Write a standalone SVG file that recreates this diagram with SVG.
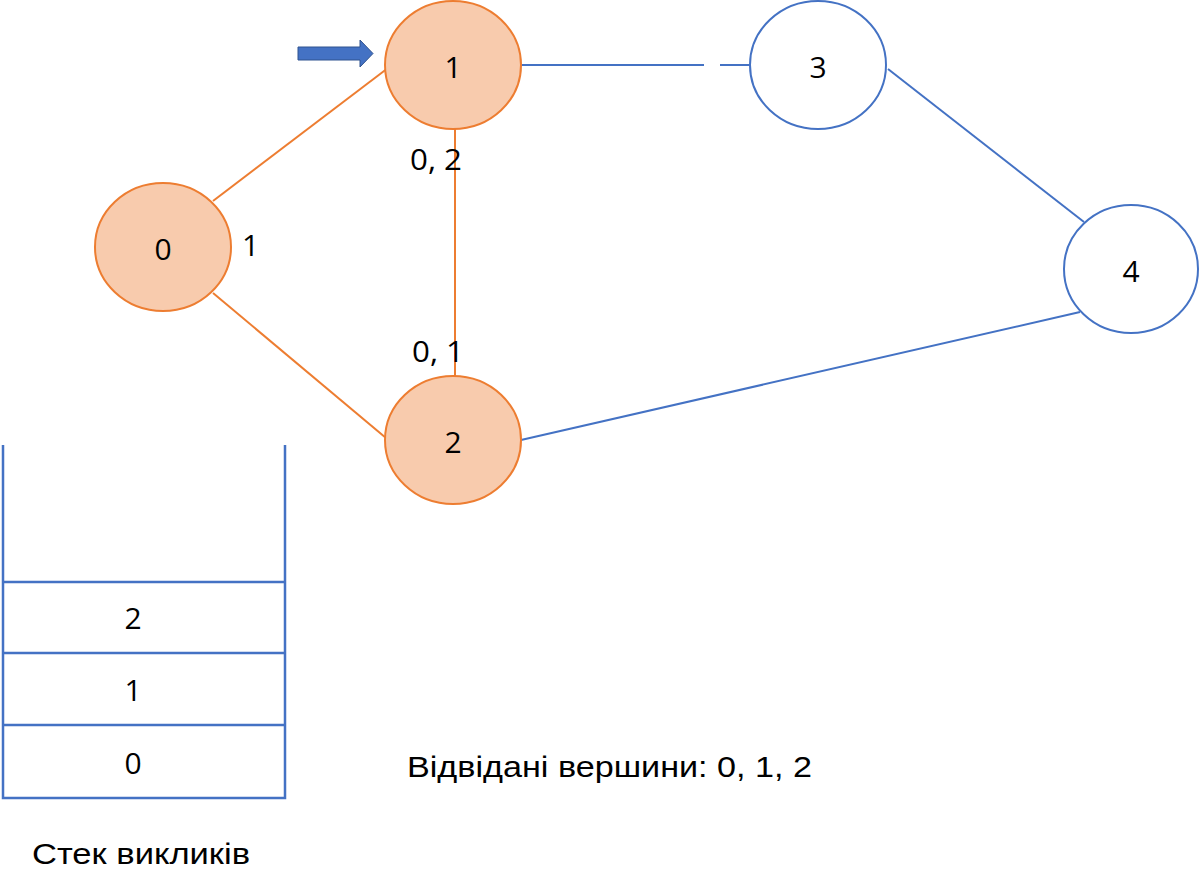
<svg xmlns="http://www.w3.org/2000/svg" width="1200" height="893" viewBox="0 0 1200 893">
<style>
.bg{fill:#ffffff}
.vis{fill:#F8CBAD;stroke:#ED7D31;stroke-width:2}
.unv{fill:#ffffff;stroke:#4472C4;stroke-width:2}
.eo{stroke:#ED7D31;stroke-width:2;fill:none}
.eb{stroke:#4472C4;stroke-width:2;fill:none}
.st{stroke:#4472C4;stroke-width:2.5;fill:none}
.lbl{font-family:"Open Sans","Noto Sans",sans-serif;font-size:30px;fill:#000;text-anchor:middle;dominant-baseline:central}
.el{font-family:"Open Sans","Noto Sans",sans-serif;font-size:30px;fill:#000}
.cap{font-family:"Liberation Sans",Arial,sans-serif;font-size:30px;fill:#000}
</style>
<rect class="bg" x="0" y="0" width="1200" height="893"/>
<g id="connectors">
<line class="eo" x1="213" y1="201" x2="388" y2="68"/>
<line class="eo" x1="213" y1="293" x2="386" y2="438"/>
<line class="eo" x1="455" y1="129" x2="455" y2="376"/>
<line class="eb" x1="521" y1="65" x2="704" y2="65"/>
<line class="eb" x1="720" y1="65" x2="750" y2="65"/>
<line class="eb" x1="888" y1="69" x2="1084" y2="222"/>
<line class="eb" x1="521" y1="440" x2="1080" y2="312"/>
</g>
<g id="node0"><ellipse class="vis" cx="163" cy="247" rx="68" ry="64"/><text class="lbl" x="163" y="248">0</text></g>
<g id="node1"><ellipse class="vis" cx="453" cy="65" rx="68" ry="64"/><text class="lbl" x="453" y="66">1</text></g>
<g id="node2"><ellipse class="vis" cx="453" cy="440" rx="68" ry="64"/><text class="lbl" x="453" y="441">2</text></g>
<g id="node3"><ellipse class="unv" cx="818" cy="65" rx="68" ry="64"/><text class="lbl" x="818" y="66">3</text></g>
<g id="node4"><ellipse class="unv" cx="1131" cy="269" rx="67" ry="64"/><text class="lbl" x="1131" y="270">4</text></g>
<g id="labels">
<text class="el" x="242" y="256">1</text>
<text class="el" x="410" y="170" textLength="52" lengthAdjust="spacingAndGlyphs">0, 2</text>
<text class="el" x="412" y="362" textLength="52" lengthAdjust="spacingAndGlyphs">0, 1</text>
</g>
<g id="pointer">
<path d="M298,47 L360,47 L360,40 L373,53.5 L360,67 L360,60 L298,60 Z" fill="#4472C4" stroke="#2F528F" stroke-width="1"/>
</g>
<g id="stack">
<polyline class="st" points="3,445 3,798 285,798 285,445"/>
<line class="st" x1="3" y1="582" x2="285" y2="582"/>
<line class="st" x1="3" y1="653" x2="285" y2="653"/>
<line class="st" x1="3" y1="725" x2="285" y2="725"/>
<text class="lbl" x="133" y="617">2</text>
<text class="lbl" x="133" y="689">1</text>
<text class="lbl" x="133" y="762">0</text>
</g>
<text class="cap" x="407" y="777" textLength="405" lengthAdjust="spacingAndGlyphs">Відвідані вершини: 0, 1, 2</text>
<text class="cap" x="32" y="864" textLength="218" lengthAdjust="spacingAndGlyphs">Стек викликів</text>
</svg>
